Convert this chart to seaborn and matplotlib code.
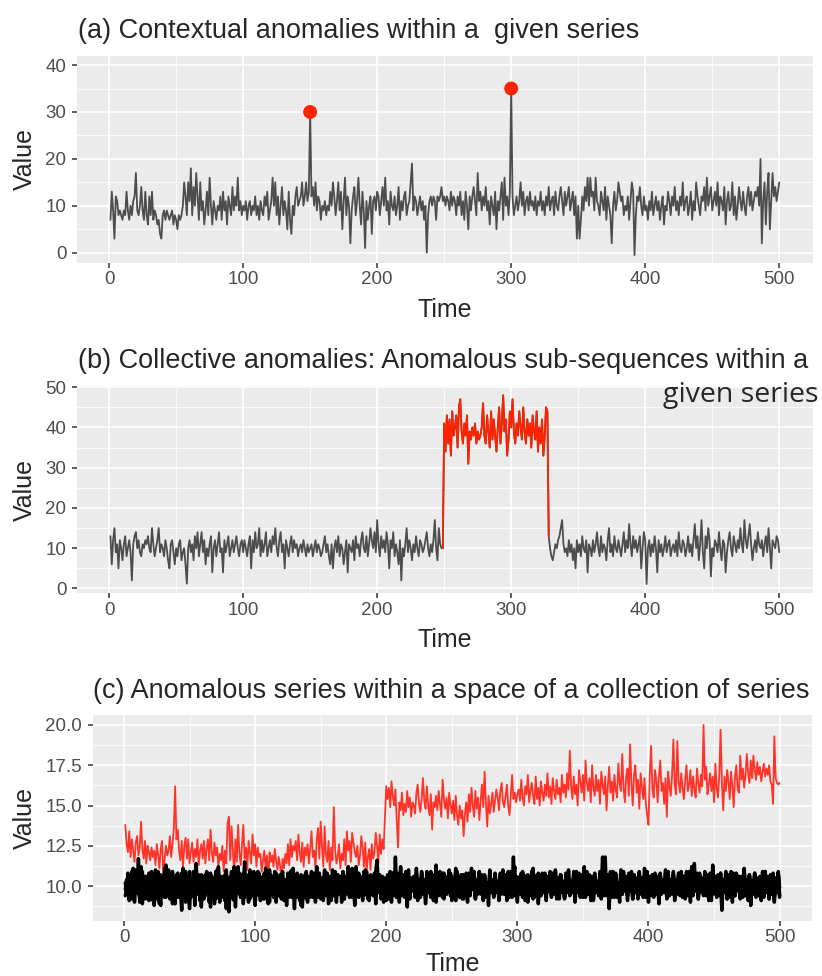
import numpy as np
import pandas as pd
import seaborn as sns
import matplotlib.pyplot as plt

# (a) single series with two point anomalies (t = 1..500)
series_a = [
    7, 13, 9, 3, 12, 11, 8, 9, 8, 7, 9, 8, 13, 9, 7, 10, 8, 11, 12, 17,
    9, 8, 10, 14, 9, 7, 13, 8, 6, 12, 8, 13, 7, 9, 8, 6, 7, 4, 3, 8,
    9, 7, 9, 8, 7, 8, 9, 6, 8, 7, 5, 8, 7, 8, 10, 15, 12, 8, 15, 11,
    18, 8, 14, 10, 17, 12, 7, 15, 9, 11, 6, 9, 13, 8, 16, 10, 6, 11, 9, 7,
    10, 9, 12, 7, 13, 9, 11, 6, 12, 10, 8, 14, 9, 12, 10, 16, 9, 11, 8, 10,
    9, 11, 7, 10, 11, 8, 10, 9, 12, 8, 10, 7, 11, 9, 8, 12, 10, 13, 7, 9,
    11, 16, 10, 15, 8, 12, 6, 10, 14, 8, 11, 9, 5, 13, 7, 4, 10, 8, 12, 14,
    10, 11, 12, 15, 10, 12, 15, 11, 13, 30, 12, 14, 10, 15, 9, 12, 11, 7, 10, 9,
    11, 8, 10, 9, 13, 10, 15, 12, 8, 11, 15, 9, 13, 5, 11, 16, 8, 12, 10, 2,
    9, 12, 14, 8, 11, 16, 10, 6, 13, 9, 1, 11, 7, 10, 12, 4, 11, 12, 9, 13,
    12, 8, 11, 14, 10, 16, 9, 11, 6, 13, 10, 9, 12, 8, 10, 14, 7, 11, 9, 12,
    13, 8, 10, 11, 15, 19, 9, 12, 11, 8, 10, 12, 9, 11, 7, 10, 0, 8, 11, 12,
    10, 12, 11, 7, 12, 11, 12, 14, 11, 12, 10, 12, 11, 9, 13, 10, 12, 11, 8, 12,
    10, 13, 8, 11, 7, 13, 10, 5, 12, 9, 12, 14, 11, 8, 17, 11, 13, 9, 12, 10,
    14, 9, 11, 6, 12, 10, 8, 13, 5, 11, 9, 12, 15, 7, 16, 10, 12, 8, 13, 35,
    12, 8, 10, 12, 9, 11, 15, 10, 13, 8, 11, 12, 9, 13, 10, 11, 9, 12, 8, 11,
    10, 13, 9, 11, 8, 12, 10, 14, 9, 11, 12, 8, 13, 10, 9, 12, 14, 11, 8, 13,
    10, 12, 14, 9, 11, 13, 8, 12, 3, 10, 3, 7, 12, 9, 14, 11, 16, 10, 16, 12,
    13, 9, 16, 11, 10, 8, 13, 11, 9, 14, 7, 12, 10, 8, 2, 10, 13, 9, 11, 15,
    13, 11, 12, 8, 10, 9, 12, 7, 11, 15, 13, -0.5, 8, 12, 11, 14, 10, 8, 12, 9,
    10, 7, 11, 9, 13, 8, 10, 12, 9, 11, 7, 10, 12, 6, 10, 9, 13, 11, 8, 12,
    10, 14, 9, 11, 8, 12, 10, 15, 9, 11, 12, 8, 10, 13, 7, 11, 9, 15, 12, 10,
    8, 12, 11, 14, 9, 16, 10, 12, 14, 9, 11, 13, 10, 15, 8, 12, 11, 9, 14, 6,
    11, 13, 9, 10, 15, 8, 12, 7, 10, 14, 11, 9, 13, 10, 8, 12, 14, 10, 13, 9,
    11, 13, 12, 14, 10, 20, 2, 11, 15, 6, 13, 17, 5, 11, 17, 12, 14, 11, 13, 15,
]
anomaly_times_a = [150, 300]

# (b) series with an anomalous sub-sequence
series_b = [
    13, 6, 12, 15, 9, 11, 5, 12, 10, 7, 11, 13, 8, 10, 12, 9, 2, 11, 13, 14,
    10, 12, 9, 8, 11, 10, 12, 11, 13, 10, 9, 15, 11, 8, 10, 12, 15, 9, 11, 10,
    8, 12, 10, 7, 5, 11, 12, 9, 6, 10, 8, 11, 12, 7, 9, 10, 6, 1.2, 10, 12,
    9, 11, 7, 13, 10, 14, 8, 11, 14, 9, 12, 6, 10, 8, 11, 13, 4, 10, 12, 8,
    11, 14, 9, 10, 4, 12, 9, 11, 13, 8, 10, 12, 9, 11, 13, 10, 8, 11, 12, 9,
    12, 10, 8, 11, 13, 5, 12, 9, 14, 10, 11, 15, 8, 12, 9, 11, 14, 8, 10, 12,
    9, 13, 11, 15, 10, 8, 12, 14, 9, 11, 5, 12, 10, 8, 11, 13, 9, 12, 10, 11,
    8, 10, 11, 9, 12, 10, 8, 11, 9, 10, 11, 8, 10, 12, 9, 11, 10, 8, 9, 11,
    13, 9, 11, 8, 6, 11, 5, 10, 12, 9, 13, 8, 11, 10, 6, 9, 12, 4, 11, 10,
    9, 12, 7, 13, 10, 11, 8, 12, 14, 10, 9, 13, 8, 11, 15, 12, 10, 14, 9, 17,
    11, 8, 13, 10, 12, 9, 14, 11, 5, 12, 10, 14, 8, 11, 9, 6, 12, 2, 10, 8,
    11, 15, 9, 12, 10, 7, 11, 9, 13, 10, 8, 12, 11, 9, 10, 12, 14, 10, 8, 11,
    9, 12, 17, 10, 7, 15, 11, 10, 10, 41, 34, 43, 36, 42, 33, 44, 38, 40, 43, 35,
    45, 47, 39, 36, 41, 38, 43, 31, 39, 37, 40, 38, 41, 36, 39, 37, 38, 40, 46, 38,
    36, 43, 39, 35, 44, 37, 42, 38, 34, 40, 45, 36, 41, 48, 39, 42, 33, 37, 44, 40,
    47, 39, 36, 41, 38, 44, 40, 37, 45, 39, 36, 42, 38, 41, 35, 43, 39, 37, 44, 34,
    40, 36, 42, 33, 38, 45, 44, 13, 10, 8, 7, 9, 11, 10, 12, 13, 15, 17, 11, 9,
    10, 8, 12, 9, 11, 7, 10, 5, 12, 9, 11, 8, 13, 10, 9, 12, 4, 11, 10, 8,
    12, 9, 11, 14, 10, 8, 13, 9, 11, 10, 7, 12, 15, 9, 11, 8, 13, 10, 9, 12,
    10, 8, 11, 14, 9, 12, 10, 16, 11, 8, 13, 10, 12, 9, 11, 13, 5, 10, 14, 12,
    1.1, 10, 12, 8, 11, 9, 13, 10, 4, 12, 9, 11, 8, 10, 13, 9, 11, 12, 8, 10,
    11, 9, 12, 8, 14, 10, 9, 12, 11, 8, 10, 13, 9, 11, 8, 12, 16, 10, 13, 7,
    11, 17, 9, 5, 13, 10, 15, 12, 3, 10, 8, 12, 11, 9, 14, 10, 7, 12, 11, 4,
    9, 12, 14, 10, 8, 13, 11, 9, 12, 10, 15, 11, 9, 17, 12, 10, 13, 16, 11, 7,
    10, 12, 9, 14, 11, 10, 12, 8, 11, 13, 9, 15, 10, 5, 12, 11, 10, 13, 12, 9,
]
anomaly_start_b = 249
anomaly_end_b = 328

# (c) anomalous series among a collection of series
series_c_red = [
    13.8, 12.6, 12.1, 13.4, 11.8, 12.9, 12.2, 11.5, 12.7, 13.1, 11.9, 12.4, 14.0, 12.3, 11.7, 12.8, 11.4, 12.5, 12.1, 11.6,
    12.4, 11.8, 12.2, 11.3, 12.6, 11.9, 11.1, 12.3, 12.8, 10.6, 11.7, 12.5, 11.9, 12.2, 13.1, 11.8, 12.6, 13.6, 16.2, 12.9,
    13.5, 12.2, 11.6, 12.8, 11.2, 12.5, 13.0, 11.7, 12.9, 11.4, 12.1, 12.7, 11.5, 12.3, 11.8, 12.9, 11.3, 12.2, 12.6, 11.7,
    12.8, 11.4, 12.3, 12.9, 11.6, 13.5, 12.1, 11.5, 12.7, 11.9, 12.4, 11.2, 12.0, 11.6, 12.5, 10.9, 12.2, 11.4, 13.9, 14.3,
    11.6, 13.7, 12.2, 10.8, 12.9, 11.5, 13.8, 12.1, 11.3, 12.6, 13.8, 11.7, 12.4, 11.0, 12.8, 12.1, 11.4, 13.2, 11.9, 12.6,
    11.2, 12.4, 11.8, 12.0, 10.9, 11.6, 12.2, 11.1, 11.9, 10.4, 12.1, 11.5, 11.9, 11.2, 12.3, 11.6, 11.0, 11.8, 11.3, 10.5,
    11.7, 11.1, 12.0, 11.4, 12.6, 11.3, 12.9, 11.8, 12.5, 12.2, 12.8, 11.6, 13.2, 12.1, 11.5, 12.7, 11.2, 12.4, 11.9, 12.6,
    11.4, 12.3, 13.4, 11.8, 12.2, 11.1, 12.9, 13.6, 11.7, 14.0, 12.5, 11.2, 13.7, 12.0, 11.5, 12.8, 11.0, 12.4, 11.6, 14.9,
    12.3, 11.4, 11.8, 12.6, 11.1, 12.0, 11.6, 12.9, 11.3, 13.4, 12.2, 12.8, 11.5, 13.3, 12.7, 12.1, 11.8, 12.5, 11.3, 11.9,
    13.1, 12.4, 11.2, 12.7, 10.9, 11.8, 12.3, 11.0, 12.6, 11.7, 12.1, 13.3, 12.5, 11.4, 13.2, 12.0, 12.9, 12.3, 14.2, 16.2,
    15.4, 16.1, 14.9, 16.5, 15.6, 15.0, 16.0, 14.1, 12.4, 15.2, 14.7, 15.8, 14.4, 15.1, 14.6, 15.9, 14.9, 15.5, 14.3, 15.2,
    15.0, 14.5, 15.8, 16.3, 15.1, 14.6, 15.4, 16.7, 15.3, 14.8, 16.2, 15.0, 14.4, 15.7, 13.5, 15.2, 14.9, 15.6, 14.7, 15.9,
    15.1, 14.3, 16.6, 15.4, 14.8, 15.5, 14.2, 15.8, 15.0, 14.5, 15.3, 14.1, 15.6, 14.4, 13.8, 15.0, 14.2, 14.7, 13.1, 14.5,
    15.2, 14.0, 15.7, 14.6, 16.1, 15.0, 14.3, 15.9, 14.8, 15.5, 14.1, 15.3, 16.3, 14.9, 17.1, 15.2, 13.7, 15.6, 14.5, 15.1,
    15.8, 14.6, 15.3, 16.0, 15.5, 14.7, 15.9, 16.4, 15.2, 14.9, 15.6, 16.3, 15.0, 14.4, 15.7, 16.9, 15.4, 15.8, 15.2, 15.7,
    16.0, 15.3, 16.6, 15.5, 15.0, 16.2, 15.7, 16.9, 15.2, 15.9, 16.4, 15.6, 15.1, 16.8, 15.4, 16.1, 15.0, 16.5, 15.8, 15.3,
    16.3, 15.6, 17.0, 15.5, 16.2, 15.1, 16.7, 15.9, 15.4, 16.6, 15.7, 16.1, 15.2, 16.9, 15.8, 16.3, 15.5, 17.0, 16.0, 18.4,
    16.2, 15.4, 16.8, 15.7, 16.3, 15.0, 17.2, 16.5, 15.8, 16.9, 15.3, 17.8, 16.4, 15.9, 16.7, 15.2, 17.5, 16.1, 15.6, 16.9,
    15.9, 16.6, 15.1, 17.1, 16.3, 15.7, 16.8, 14.7, 16.2, 17.4, 15.8, 16.5, 15.3, 16.9, 16.0, 15.5, 17.6, 16.4, 15.9, 18.2,
    16.1, 15.2, 16.8, 17.3, 15.6, 18.8, 16.4, 15.0, 16.9, 17.5, 15.8, 16.6, 14.8, 17.0, 16.2, 15.4, 16.7, 15.1, 14.4, 13.8,
    16.9, 18.7, 16.0, 15.5, 17.2, 16.6, 15.2, 16.8, 17.8, 15.9, 16.4, 15.1, 16.7, 14.3, 17.1, 16.2, 15.6, 16.9, 19.1, 16.3,
    15.7, 19.0, 16.5, 15.8, 17.0, 16.1, 15.4, 16.6, 17.5, 15.9, 16.3, 17.2, 15.6, 16.8, 16.0, 15.5, 17.3, 16.4, 15.8, 16.9,
    16.2, 20.0, 16.6, 17.4, 15.7, 16.3, 17.0, 15.9, 16.8, 15.2, 17.6, 16.1, 15.5, 16.9, 19.7, 16.4, 14.7, 16.8, 15.9, 17.2,
    16.5, 15.4, 17.1, 16.2, 14.9, 16.8, 17.5, 16.0, 15.8, 18.1, 16.6, 17.3, 16.1, 16.9, 18.2, 17.0, 16.4, 17.8, 16.7, 18.1,
    17.2, 16.6, 17.7, 16.9, 17.4, 16.5, 17.1, 17.6, 16.8, 17.3, 16.9, 17.5, 16.5, 16.3, 15.1, 19.3, 16.7, 16.4, 16.3, 16.4,
]

series_c_1 = [
    10.2, 9.6, 10.8, 9.4, 10.1, 10.9, 9.3, 10.5, 9.8, 10.7, 9.5, 10.3, 11.2, 9.7, 10.4, 9.2, 10.6, 9.9, 10.8, 9.4,
    10.5, 9.1, 10.3, 11.0, 9.6, 10.2, 8.9, 10.7, 9.8, 10.4, 9.3, 11.3, 10.0, 9.5, 10.6, 9.7, 10.9, 9.2, 10.3, 9.9,
    10.8, 9.4, 10.1, 9.6, 11.1, 10.2, 9.0, 10.5, 9.7, 10.9, 9.3, 10.4, 10.0, 9.5, 11.4, 9.8, 10.3, 9.1, 10.7, 9.6,
    10.2, 9.4, 10.9, 9.7, 10.4, 8.7, 10.6, 9.9, 10.3, 9.2, 11.0, 9.6, 10.5, 9.8, 10.1, 9.3, 10.7, 8.6, 10.4, 9.9,
    10.6, 9.5, 10.2, 11.2, 9.4, 10.0, 9.7, 10.8, 9.3, 10.5, 9.9, 11.5, 9.6, 10.3, 9.1, 10.7, 9.8, 10.4, 9.5, 10.1,
    9.7, 10.9, 9.4, 10.3, 9.8, 10.6, 9.2, 11.1, 9.9, 10.4, 9.0, 10.7, 9.6, 10.2, 9.3, 10.8, 9.7, 10.0, 9.4, 10.5,
    10.9, 9.5, 10.2, 9.8, 10.6, 9.3, 10.4, 11.0, 9.6, 10.1, 9.4, 10.8, 9.7, 10.3, 8.8, 10.5, 9.9, 10.7, 9.2, 10.4,
    9.6, 10.2, 10.9, 9.5, 10.3, 9.8, 11.2, 9.3, 10.6, 9.7, 10.0, 9.1, 10.5, 9.8, 10.8, 9.4, 10.2, 9.6, 11.0, 9.9,
    10.4, 9.3, 10.7, 9.8, 10.1, 9.5, 10.9, 9.2, 10.3, 9.7, 10.6, 9.4, 10.2, 11.1, 9.6, 10.5, 9.9, 10.8, 9.3, 10.0,
    9.7, 10.6, 9.4, 11.0, 9.8, 10.3, 9.1, 10.7, 9.6, 10.2, 9.5, 10.9, 11.6, 9.9, 10.4, 9.2, 10.6, 9.8, 10.1, 9.4,
    10.7, 9.6, 10.3, 9.0, 10.8, 9.9, 10.4, 9.3, 10.6, 9.7, 11.2, 9.5, 10.1, 9.8, 10.9, 9.4, 10.5, 9.6, 10.2, 9.9,
    10.6, 9.3, 11.1, 9.7, 10.2, 9.5, 10.8, 9.8, 10.4, 9.2, 10.7, 9.6, 10.0, 10.9, 9.4, 10.3, 9.7, 11.3, 9.5, 10.1,
    9.8, 10.5, 9.3, 10.8, 9.6, 10.2, 9.9, 11.0, 9.4, 10.6, 9.7, 10.3, 9.1, 10.9, 9.8, 10.4, 9.5, 10.7, 9.2, 10.1,
    10.8, 9.6, 10.3, 9.4, 11.1, 9.9, 10.5, 9.2, 10.2, 9.7, 10.9, 9.5, 10.4, 9.8, 10.6, 9.3, 10.1, 9.6, 10.8, 9.9,
    10.3, 9.4, 10.7, 9.8, 10.2, 9.1, 10.6, 9.7, 11.0, 9.5, 10.4, 9.9, 10.8, 9.3, 10.5, 9.6, 10.1, 11.2, 9.4, 10.3,
    9.8, 10.6, 9.5, 10.9, 9.7, 10.3, 9.2, 10.7, 9.9, 10.4, 9.6, 11.1, 9.3, 10.2, 9.8, 10.8, 9.4, 10.5, 9.7, 10.0,
    10.6, 9.5, 10.2, 9.9, 10.9, 9.3, 10.4, 9.7, 11.0, 9.6, 10.1, 9.4, 10.7, 9.8, 10.3, 9.2, 10.8, 9.6, 10.5, 9.9,
    10.2, 9.7, 10.9, 9.4, 10.5, 9.8, 10.1, 9.3, 10.7, 9.6, 11.2, 9.9, 10.3, 9.5, 10.6, 9.1, 10.4, 9.8, 10.8, 9.6,
    10.3, 9.5, 10.8, 9.8, 11.8, 9.4, 10.6, 9.7, 10.2, 9.2, 10.9, 9.6, 10.4, 9.9, 10.7, 9.3, 10.1, 9.8, 11.0, 9.5,
    10.5, 9.7, 10.2, 9.4, 10.8, 9.9, 10.4, 9.2, 10.7, 9.6, 10.1, 9.3, 10.9, 9.8, 10.5, 9.5, 11.1, 9.7, 10.3, 9.6,
    10.6, 9.4, 10.2, 9.9, 10.8, 9.5, 10.3, 9.1, 10.7, 9.8, 10.4, 9.6, 11.0, 9.3, 10.5, 9.7, 10.1, 9.8, 10.9, 9.4,
    10.3, 9.7, 10.8, 9.5, 10.1, 9.9, 10.6, 9.3, 10.9, 9.6, 10.4, 9.8, 11.2, 9.4, 10.2, 9.7, 10.7, 9.2, 10.5, 9.9,
    10.2, 9.6, 10.9, 9.4, 10.5, 9.8, 10.3, 9.1, 11.3, 9.7, 10.6, 9.5, 10.1, 9.9, 10.8, 9.3, 10.4, 9.6, 10.7, 9.8,
    10.5, 9.3, 10.9, 9.7, 10.2, 9.5, 10.8, 9.9, 10.4, 9.2, 10.6, 9.8, 11.1, 9.4, 10.3, 9.7, 10.7, 9.6, 10.0, 9.5,
    10.8, 9.6, 10.2, 9.4, 10.6, 9.9, 10.3, 9.5, 10.9, 9.7, 10.4, 9.2, 10.7, 9.8, 10.1, 9.4, 10.5, 9.6, 10.8, 9.9,
]

series_c_2 = [
    9.8, 10.4, 9.5, 10.1, 10.7, 9.2, 10.3, 9.9, 11.0, 9.6, 10.5, 9.0, 10.2, 10.9, 9.4, 10.6, 9.7, 10.0, 9.1, 10.8,
    9.5, 10.3, 9.8, 10.6, 9.2, 10.9, 9.6, 8.8, 10.4, 9.7, 11.1, 9.3, 10.2, 9.9, 10.8, 9.4, 10.5, 9.6, 8.9, 10.7,
    9.6, 10.2, 9.3, 10.8, 9.9, 10.4, 9.1, 10.6, 9.5, 8.6, 10.3, 9.8, 10.9, 9.4, 10.1, 9.7, 10.7, 9.2, 10.5, 9.8,
    9.4, 10.7, 9.9, 10.2, 9.5, 10.8, 9.2, 10.4, 9.7, 10.9, 9.6, 10.3, 9.0, 10.6, 9.8, 10.1, 9.4, 11.0, 9.3, 8.4,
    10.2, 9.7, 10.6, 9.1, 10.3, 9.8, 11.2, 9.5, 10.4, 9.9, 10.8, 9.3, 10.0, 9.6, 10.7, 9.2, 10.5, 9.4, 10.9, 9.7,
    10.1, 9.5, 10.8, 9.8, 10.3, 9.2, 10.6, 9.4, 10.0, 9.7, 11.0, 9.6, 10.4, 9.3, 10.9, 9.9, 10.2, 9.5, 10.7, 9.8,
    10.5, 9.1, 10.2, 9.6, 10.8, 9.9, 10.3, 9.4, 11.1, 9.7, 10.5, 9.3, 10.1, 9.8, 10.6, 8.7, 10.4, 9.6, 10.9, 9.5,
    10.2, 9.8, 10.7, 9.3, 10.4, 9.6, 10.0, 9.9, 10.8, 9.2, 10.5, 9.7, 11.0, 9.4, 10.3, 9.8, 10.6, 9.1, 10.2, 9.6,
    10.9, 9.4, 10.3, 9.7, 10.6, 9.0, 10.4, 9.8, 10.1, 9.5, 10.8, 9.6, 10.2, 9.3, 10.7, 9.9, 11.2, 9.4, 10.5, 9.7,
    10.3, 9.5, 10.9, 9.8, 10.1, 9.2, 10.6, 9.7, 10.4, 9.9, 10.8, 9.3, 10.2, 9.6, 10.7, 9.4, 10.0, 9.8, 10.5, 9.1,
    10.4, 9.8, 10.9, 9.5, 10.2, 9.7, 10.6, 9.3, 10.8, 9.9, 10.1, 9.4, 10.7, 9.6, 10.3, 9.8, 11.0, 9.2, 10.5, 9.7,
    10.2, 9.5, 10.8, 9.9, 10.4, 9.3, 10.6, 9.7, 10.0, 9.4, 10.9, 9.8, 10.3, 9.6, 10.7, 9.1, 10.5, 9.9, 10.2, 9.6,
    10.9, 9.4, 10.3, 9.8, 10.6, 9.5, 10.1, 9.7, 10.8, 9.2, 10.4, 9.9, 11.1, 9.6, 10.2, 9.3, 10.7, 9.8, 10.5, 9.4,
    10.1, 9.7, 10.8, 9.5, 10.3, 9.9, 10.6, 9.2, 10.4, 9.8, 10.9, 9.6, 10.0, 9.4, 10.7, 9.7, 10.2, 9.5, 11.0, 9.8,
    10.4, 9.3, 10.7, 9.6, 10.2, 9.9, 10.8, 9.5, 10.1, 9.7, 10.5, 9.2, 10.9, 9.8, 10.3, 9.6, 11.8, 9.4, 10.6, 9.9,
    10.2, 9.5, 10.8, 9.7, 10.4, 9.1, 10.6, 9.8, 10.0, 9.4, 10.9, 9.6, 10.3, 9.9, 10.7, 9.3, 10.5, 9.8, 10.1, 9.6,
    10.8, 9.4, 10.3, 9.7, 10.6, 9.5, 10.1, 9.9, 10.9, 9.2, 10.4, 9.8, 10.7, 9.6, 10.2, 9.3, 10.5, 9.7, 11.0, 9.5,
    10.3, 9.8, 10.6, 9.4, 10.9, 9.6, 10.2, 9.7, 10.5, 9.3, 10.8, 9.9, 10.1, 9.5, 10.7, 9.8, 10.4, 9.2, 10.6, 9.7,
    10.2, 9.4, 10.9, 9.8, 10.3, 9.6, 11.8, 9.5, 10.7, 9.9, 10.1, 9.3, 10.5, 9.7, 10.8, 9.4, 10.2, 9.8, 10.6, 9.5,
    10.9, 9.7, 10.3, 9.4, 10.6, 9.8, 10.1, 9.2, 10.7, 9.6, 10.4, 9.9, 10.8, 9.5, 10.2, 9.7, 10.5, 9.3, 10.9, 9.6,
    10.3, 9.8, 10.7, 9.5, 10.1, 9.9, 10.6, 9.4, 10.8, 9.7, 10.2, 9.6, 10.5, 9.3, 10.9, 9.8, 10.4, 9.5, 10.7, 9.6,
    10.1, 9.9, 10.8, 9.4, 10.3, 9.7, 10.6, 9.2, 10.4, 9.8, 10.9, 9.5, 10.2, 9.6, 11.4, 9.7, 10.3, 9.4, 10.8, 9.9,
    10.5, 9.6, 10.2, 9.8, 10.7, 9.3, 10.4, 9.7, 10.9, 9.5, 10.1, 9.9, 10.6, 9.4, 10.8, 9.6, 10.3, 9.8, 10.5, 9.2,
    10.7, 9.5, 10.3, 9.9, 10.8, 9.4, 10.2, 9.7, 10.6, 9.6, 10.4, 9.3, 10.9, 9.8, 10.1, 9.5, 10.7, 9.9, 10.3, 9.6,
    10.8, 9.4, 10.5, 9.7, 10.2, 9.9, 10.6, 9.3, 10.9, 9.6, 10.4, 9.8, 10.1, 9.5, 10.7, 9.2, 10.3, 9.7, 10.8, 9.4,
]

series_c_3 = [
    9.4, 9.9, 10.3, 9.1, 10.6, 9.7, 11.1, 9.0, 10.2, 9.6, 11.7, 9.3, 10.5, 8.9, 10.1, 9.8, 10.4, 9.2, 10.7, 9.5,
    10.9, 9.7, 8.8, 10.3, 9.5, 10.6, 9.0, 10.2, 9.8, 10.5, 9.4, 10.1, 9.6, 11.0, 9.2, 10.4, 8.9, 10.6, 9.7, 10.3,
    9.3, 10.5, 9.8, 8.5, 10.2, 9.6, 10.9, 9.1, 10.4, 9.7, 10.0, 9.4, 10.7, 8.8, 10.3, 9.5, 10.1, 9.9, 8.7, 10.6,
    9.2, 10.4, 9.6, 10.8, 9.0, 10.1, 9.7, 10.5, 8.9, 10.3, 9.4, 11.2, 9.8, 10.0, 9.3, 10.6, 9.1, 10.2, 8.6, 10.4,
    9.5, 10.9, 9.2, 10.3, 8.7, 10.5, 9.7, 10.0, 9.3, 10.7, 8.9, 10.2, 9.6, 10.4, 9.0, 11.0, 9.4, 10.1, 9.8, 8.8,
    10.3, 9.6, 10.6, 9.1, 10.2, 9.7, 10.8, 9.3, 10.0, 8.9, 10.5, 9.5, 10.1, 9.8, 10.7, 9.0, 10.3, 9.4, 10.6, 9.2,
    10.0, 9.7, 10.4, 8.8, 10.2, 9.5, 10.9, 9.3, 10.1, 8.6, 10.5, 9.8, 10.3, 9.1, 10.7, 9.4, 10.0, 9.6, 10.4, 9.0,
    10.6, 9.3, 10.2, 9.7, 10.8, 9.0, 10.4, 9.5, 10.1, 9.8, 10.5, 9.2, 10.9, 9.6, 10.3, 8.9, 10.0, 9.7, 10.6, 9.4,
    10.2, 9.0, 10.7, 9.5, 10.3, 9.8, 10.0, 9.2, 10.6, 9.6, 11.2, 9.3, 10.4, 9.7, 10.1, 8.8, 10.5, 9.4, 10.8, 9.6,
    10.2, 9.1, 10.4, 9.7, 10.9, 9.3, 10.0, 9.6, 10.6, 9.4, 10.2, 8.9, 10.7, 9.8, 10.3, 9.5, 10.5, 9.0, 10.1, 9.7,
    10.6, 9.2, 10.3, 9.8, 10.8, 9.4, 11.8, 9.6, 10.2, 9.0, 10.5, 9.7, 10.1, 9.3, 10.7, 8.7, 10.4, 9.5, 10.2, 9.8,
    10.0, 9.4, 10.6, 9.1, 10.3, 9.7, 10.9, 9.5, 10.2, 8.9, 10.5, 9.6, 10.1, 9.3, 10.7, 9.8, 10.4, 9.0, 10.6, 9.4,
    10.2, 9.7, 10.8, 9.2, 10.4, 9.5, 10.1, 9.8, 10.6, 9.1, 10.3, 9.6, 10.9, 9.4, 10.0, 9.7, 10.5, 9.2, 10.7, 9.5,
    10.3, 9.0, 10.6, 9.6, 10.2, 9.8, 10.9, 9.3, 10.4, 9.5, 10.1, 9.7, 10.7, 9.1, 10.5, 9.4, 10.2, 8.8, 10.6, 9.6,
    10.1, 9.4, 10.8, 9.7, 10.3, 9.2, 10.5, 9.8, 10.0, 9.5, 10.7, 9.1, 10.4, 9.6, 10.9, 9.3, 10.2, 9.7, 10.6, 9.0,
    10.4, 9.6, 10.1, 9.3, 10.7, 9.8, 10.3, 9.0, 10.5, 9.5, 10.9, 9.2, 10.2, 9.7, 10.6, 8.9, 10.4, 9.4, 10.8, 9.6,
    10.3, 9.1, 10.6, 9.7, 10.2, 9.4, 10.8, 9.5, 10.0, 9.8, 10.5, 9.2, 10.7, 9.6, 10.1, 9.3, 10.4, 9.7, 10.9, 9.4,
    10.2, 9.6, 10.6, 9.0, 10.3, 9.8, 10.8, 9.4, 10.1, 9.7, 10.5, 9.3, 10.9, 9.5, 10.2, 9.8, 10.6, 9.1, 10.4, 9.7,
    10.0, 9.5, 10.7, 9.2, 10.4, 9.8, 10.1, 9.4, 10.6, 8.6, 10.3, 9.7, 10.9, 9.3, 10.5, 9.6, 10.2, 9.0, 10.8, 9.5,
    10.3, 9.8, 10.6, 9.1, 10.2, 9.7, 10.9, 9.4, 10.0, 9.6, 10.5, 9.2, 10.7, 9.8, 10.1, 9.3, 10.4, 9.5, 10.8, 9.0,
    10.2, 9.6, 10.7, 9.3, 10.4, 9.8, 10.1, 8.9, 10.6, 9.5, 10.3, 9.7, 10.8, 9.2, 10.5, 9.4, 10.0, 9.8, 10.7, 9.1,
    10.4, 9.5, 10.2, 9.7, 10.9, 9.3, 10.6, 9.8, 10.1, 9.4, 10.5, 9.0, 10.7, 9.6, 10.3, 9.8, 10.8, 9.2, 10.4, 9.6,
    10.1, 9.4, 10.6, 9.7, 10.3, 9.1, 10.8, 9.5, 10.2, 9.8, 10.5, 9.3, 10.7, 9.6, 10.0, 8.5, 10.4, 9.7, 10.9, 9.2,
    10.3, 9.6, 10.5, 9.0, 10.7, 9.4, 10.2, 9.8, 10.6, 9.3, 10.1, 9.7, 10.8, 9.5, 10.4, 9.1, 10.6, 8.8, 10.3, 9.6,
    10.7, 9.3, 10.2, 9.8, 10.5, 9.1, 10.9, 9.4, 10.1, 9.7, 10.6, 9.2, 10.3, 9.5, 10.8, 9.0, 10.4, 9.6, 10.9, 9.3,
]

titles = [
    '(a) Contextual anomalies within a  given series',
    '(b) Collective anomalies: Anomalous sub-sequences within a',
    '(c) Anomalous series within a space of a collection of series',
]
title_b_second_line = 'given series'

x_ticks = [0, 100, 200, 300, 400, 500]
y_ticks_a = [0, 10, 20, 30, 40]
y_ticks_b = [0, 10, 20, 30, 40, 50]
y_ticks_c = [10.0, 12.5, 15.0, 17.5, 20.0]

GREY_LINE = '#4D4D4D'
RED = '#FF2200'
RED_C = '#FF3328'

sns.set_style('darkgrid', {'axes.facecolor': '#EBEBEB', 'grid.color': 'white'})
plt.rcParams['font.family'] = ['Liberation Sans', 'DejaVu Sans']

W, H = 822, 976
fig = plt.figure(figsize=(W / 100, H / 100), dpi=100)


def px_axes(left, top, right, bottom):
    return fig.add_axes([left / W, 1 - bottom / H, (right - left) / W, (bottom - top) / H])


def fy(y):
    return 1 - y / H


def style_axis(ax, yticks, ylim, fmt, yminor):
    ax.set_xlim(-23.95, 524.95)
    ax.set_ylim(*ylim)
    ax.set_xticks(x_ticks)
    ax.set_xticks([50, 150, 250, 350, 450], minor=True)
    ax.set_yticks(yticks)
    ax.set_yticks(yminor, minor=True)
    ax.set_yticklabels([fmt.format(v) for v in yticks])
    ax.grid(which='major', color='white', lw=1.2)
    ax.grid(which='minor', color='white', lw=0.6)
    ax.tick_params(which='major', bottom=True, left=True, length=3.6, width=1.1,
                   color='#333333', labelcolor='#4D4D4D', labelsize=13.5)
    ax.tick_params(axis='x', pad=2.4)
    ax.tick_params(axis='y', pad=4.0)
    ax.tick_params(which='minor', length=0)
    ax.set_xlabel('')
    ax.set_ylabel('')
    for s in ax.spines.values():
        s.set_visible(False)


# ---- panel (a)
ax_a = px_axes(77, 55.7, 812.7, 263)
t_a = np.arange(1, len(series_a) + 1)
sns.lineplot(x=t_a, y=series_a, ax=ax_a, color=GREY_LINE, lw=1.3)
sns.scatterplot(x=anomaly_times_a, y=[series_a[t - 1] for t in anomaly_times_a], ax=ax_a,
                color=RED, s=100, edgecolor='none', zorder=5)
style_axis(ax_a, y_ticks_a, (-2.2, 42), '{:g}', [5, 15, 25, 35])

# ---- panel (b)
ax_b = px_axes(77, 386, 812.7, 593.3)
t_b = np.arange(1, len(series_b) + 1)
sns.lineplot(x=t_b, y=series_b, ax=ax_b, color=GREY_LINE, lw=1.3)
mask = (t_b >= anomaly_start_b) & (t_b <= anomaly_end_b)
sns.lineplot(x=t_b[mask], y=np.array(series_b)[mask], ax=ax_b, color=RED, lw=1.3)
style_axis(ax_b, y_ticks_b, (-1.2, 50.3), '{:g}', [5, 15, 25, 35, 45])

# ---- panel (c)
ax_c = px_axes(92.6, 715, 812.3, 921)
t_c = np.arange(1, len(series_c_red) + 1)
sns.lineplot(x=t_c, y=series_c_red, ax=ax_c, color=RED_C, lw=1.3)
frames = []
for i, s in enumerate([series_c_1, series_c_2, series_c_3]):
    frames.append(pd.DataFrame({'Time': np.arange(1, len(s) + 1), 'Value': s, 'series': i}))
df_c = pd.concat(frames)
sns.lineplot(data=df_c, x='Time', y='Value', units='series', estimator=None,
             ax=ax_c, color='black', lw=2.5)
style_axis(ax_c, y_ticks_c, (7.83, 20.62), '{:.1f}', [8.75, 11.25, 13.75, 16.25, 18.75])

# ---- titles and axis labels
fig.text(78 / W, fy(38), titles[0], ha='left', va='baseline', fontsize=19.5)
fig.text(78 / W, fy(368), titles[1], ha='left', va='baseline', fontsize=19.5)
fig.text(818 / W, fy(402.5), title_b_second_line, ha='right', va='baseline',
         fontsize=20.5, family=['Open Sans', 'DejaVu Sans'])
fig.text(93 / W, fy(698), titles[2], ha='left', va='baseline', fontsize=19.5)

for yc in [159.3, 489.6, 818]:
    fig.text(32 / W, fy(yc), 'Value', rotation=90, rotation_mode='anchor',
             ha='center', va='baseline', fontsize=18)
for xc, yb in [(444.9, 317), (444.9, 647), (452.5, 971)]:
    fig.text(xc / W, fy(yb), 'Time', ha='center', va='baseline', fontsize=18)

fig.savefig('out.png', dpi=100)
